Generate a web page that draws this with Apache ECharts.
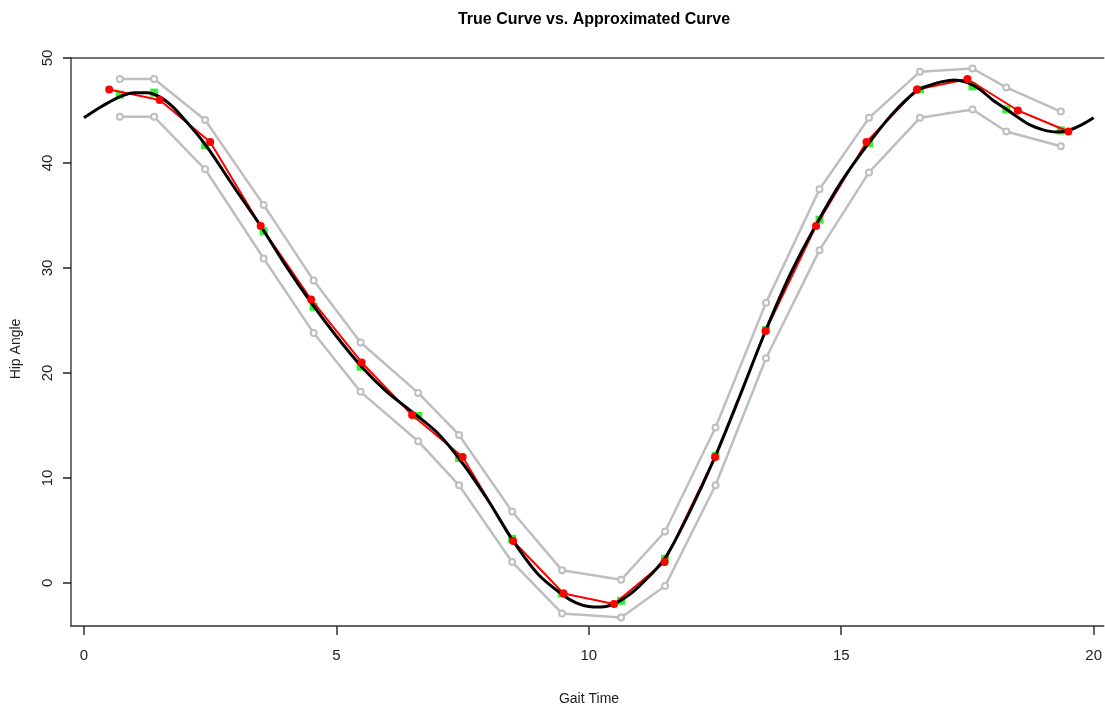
<!DOCTYPE html>
<html>
<head>
<meta charset="utf-8">
<script src="https://cdn.jsdelivr.net/npm/echarts@6/dist/echarts.min.js"></script>
<style>
  html, body { margin: 0; padding: 0; background: #fff; }
  #main { width: 1105px; height: 710px; }
</style>
</head>
<body>
<div id="main"></div>
<script>
// true curve (black)
var trueX = [0, 0.25, 0.5, 0.75, 1, 1.25, 1.5, 1.75, 2, 2.25, 2.5, 3, 3.5, 4, 4.5, 5, 5.5, 6, 6.5, 7, 7.5, 8, 8.5, 9, 9.5, 9.75,
  10, 10.25, 10.5, 10.75, 11, 11.5, 12, 12.5, 13, 13.5, 14, 14.5, 15, 15.5, 16, 16.5, 16.75, 17, 17.25, 17.5, 17.75,
  18, 18.25, 18.5, 18.75, 19, 19.25, 19.5, 19.75, 20];
var trueY = [44.3, 45.1, 45.8, 46.4, 46.7, 46.7, 46.3, 45.4, 44.1, 42.7, 41.1, 37.5, 34.0, 30.2, 26.7, 23.5, 20.6, 18.2, 16.3, 14.3, 11.4, 7.9, 4.0, 0.8, -1.2, -1.9,
  -2.25, -2.3, -2.0, -1.3, -0.3, 2.3, 6.8, 12.0, 17.9, 24.0, 29.5, 34.1, 38.2, 41.6, 44.6, 46.9, 47.4, 47.75, 47.9, 47.65, 47.0,
  46.0, 45.2, 44.35, 43.6, 43.15, 42.95, 43.1, 43.6, 44.3];

// observed points (red)
var obsX = [0.5, 1.5, 2.5, 3.5, 4.5, 5.5, 6.5, 7.5, 8.5, 9.5, 10.5, 11.5, 12.5, 13.5, 14.5, 15.5, 16.5, 17.5, 18.5, 19.5];
var obsY = [47, 46, 42, 34, 27, 21, 16, 12, 4, -1, -2, 2, 12, 24, 34, 42, 47, 48, 45, 43];

// knots with estimate (green) and upper / lower band (grey)
var knotX = [0.71, 1.39, 2.4, 3.56, 4.55, 5.48, 6.62, 7.43, 8.48, 9.47, 10.64, 11.51, 12.51, 13.51, 14.57, 15.55, 16.56, 17.6, 18.27, 19.35];
var estY = [46.5, 46.7, 41.7, 33.5, 26.3, 20.6, 15.9, 11.9, 4.2, -1.0, -1.7, 2.3, 12.1, 24.1, 34.6, 41.9, 47.0, 47.3, 45.1, 43.1];
var upperY = [48.0, 48.0, 44.1, 36.0, 28.8, 22.9, 18.1, 14.1, 6.8, 1.2, 0.3, 4.9, 14.8, 26.7, 37.5, 44.3, 48.7, 49.0, 47.2, 44.9];
var lowerY = [44.4, 44.4, 39.4, 30.9, 23.8, 18.2, 13.5, 9.3, 2.0, -2.9, -3.3, -0.3, 9.3, 21.4, 31.7, 39.1, 44.3, 45.1, 43.0, 41.6];

var xTicks = [0, 5, 10, 15, 20];
var yTicks = [0, 10, 20, 30, 40, 50];

function pairs(xs, ys) {
  return xs.map(function (x, i) { return [x, ys[i]]; });
}

var font = '"Liberation Sans", Arial, sans-serif';
var grey = '#bebebe';

var chart = echarts.init(document.getElementById('main'));
chart.setOption({
  animation: false,
  backgroundColor: '#fff',
  title: {
    text: 'True Curve vs. Approximated Curve',
    left: 589,
    top: 7,
    textAlign: 'center',
    textStyle: { fontFamily: font, fontSize: 16, fontWeight: 'bold', color: '#000' }
  },
  grid: { left: 71, right: 0, top: 58, bottom: 84 },
  xAxis: [{
    type: 'value',
    min: -0.257,
    max: 20.2,
    splitLine: { show: false },
    axisLine: { show: true, onZero: false, lineStyle: { color: '#333', width: 1.5 } },
    axisTick: { show: true, length: 9, customValues: xTicks, lineStyle: { color: '#333', width: 1.5 } },
    axisLabel: { customValues: xTicks, margin: 22, fontFamily: font, fontSize: 15, color: '#222' }
  }, {
    type: 'value',
    position: 'top',
    min: -0.257,
    max: 20.2,
    splitLine: { show: false },
    axisLine: { show: true, onZero: false, lineStyle: { color: '#444', width: 1.5 } },
    axisTick: { show: false },
    axisLabel: { show: false }
  }],
  yAxis: {
    type: 'value',
    min: -4.1,
    max: 50,
    splitLine: { show: false },
    axisLine: { show: true, onZero: false, lineStyle: { color: '#444', width: 1.5 } },
    axisTick: { show: true, length: 8, customValues: yTicks, lineStyle: { color: '#222', width: 1.5 } },
    axisLabel: { customValues: yTicks, rotate: 90, margin: 16, fontFamily: font, fontSize: 15, color: '#222' }
  },
  graphic: [{
    type: 'text',
    x: 589, y: 699,
    style: { text: 'Gait Time', fontFamily: font, fontSize: 14, fill: '#222', align: 'center', verticalAlign: 'middle' }
  }, {
    type: 'text',
    x: 16, y: 349,
    rotation: Math.PI / 2,
    style: { text: 'Hip Angle', fontFamily: font, fontSize: 14, fill: '#222', align: 'center', verticalAlign: 'middle' }
  }],
  series: [{
    name: 'upper',
    type: 'line',
    data: pairs(knotX, upperY),
    symbol: 'emptyCircle',
    symbolSize: 6,
    lineStyle: { color: grey, width: 2.5 },
    itemStyle: { color: grey, borderWidth: 1.5 }
  }, {
    name: 'lower',
    type: 'line',
    data: pairs(knotX, lowerY),
    symbol: 'emptyCircle',
    symbolSize: 6,
    lineStyle: { color: grey, width: 2.5 },
    itemStyle: { color: grey, borderWidth: 1.5 }
  }, {
    name: 'observed',
    type: 'line',
    data: pairs(obsX, obsY),
    symbol: 'circle',
    symbolSize: 8,
    lineStyle: { color: '#ff0000', width: 2 },
    itemStyle: { color: '#ff0000' }
  }, {
    name: 'estimate',
    type: 'scatter',
    data: pairs(knotX, estY),
    symbol: 'rect',
    symbolSize: 8,
    itemStyle: { color: '#00ee00' }
  }, {
    name: 'true',
    type: 'line',
    data: pairs(trueX, trueY),
    smooth: 0.3,
    showSymbol: false,
    lineStyle: { color: '#000', width: 3 }
  }]
});
</script>
</body>
</html>
